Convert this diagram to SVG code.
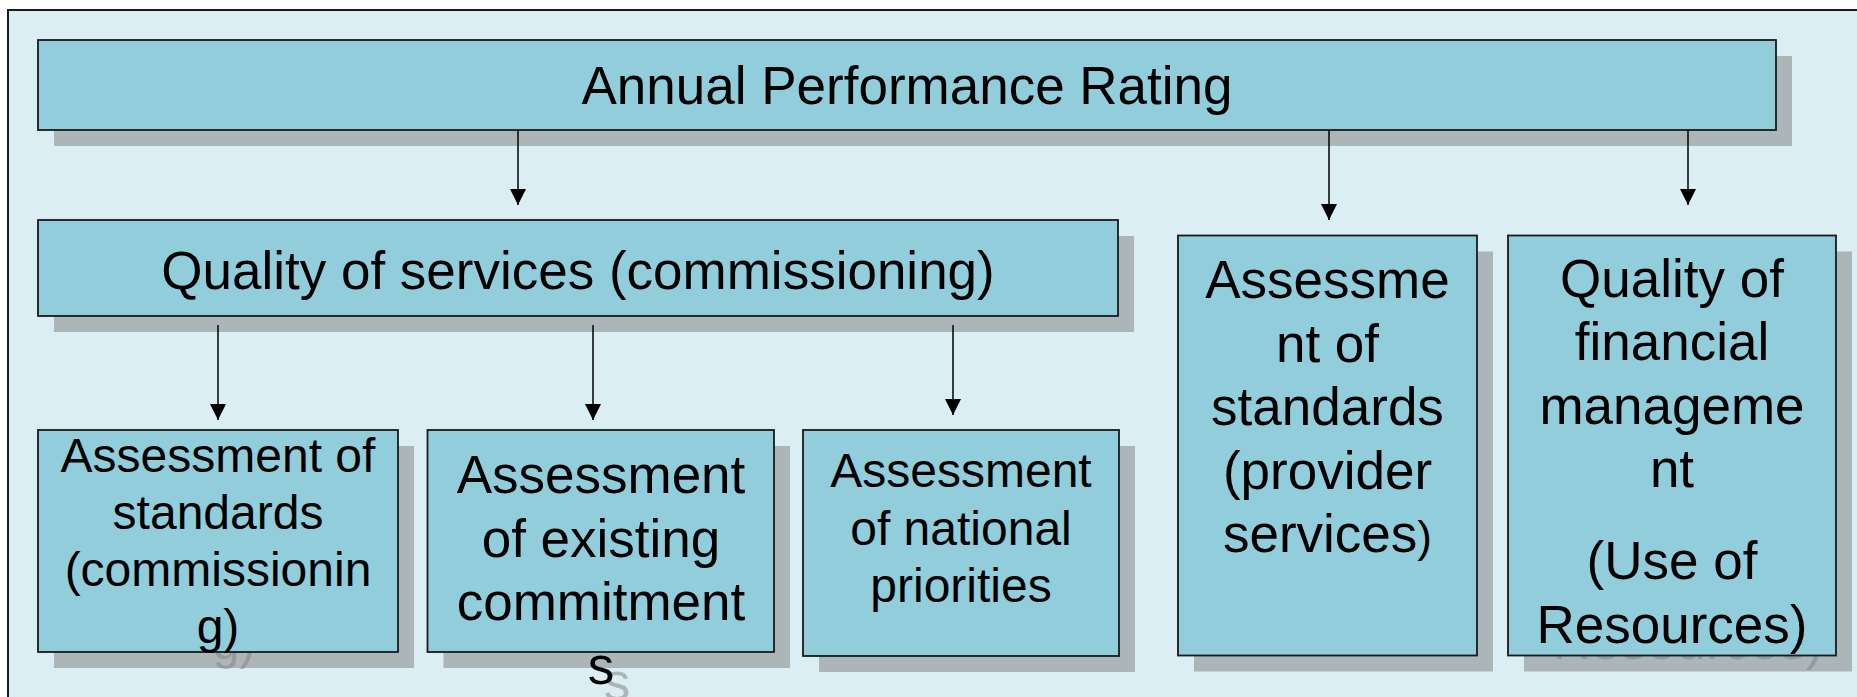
<svg xmlns="http://www.w3.org/2000/svg" width="1857" height="697" viewBox="0 0 1857 697">
<style>
.frame{fill:#DBEEF4;stroke:#1a1a1a;stroke-width:2}
.box{fill:#92CDDC;stroke:#1a1a1a;stroke-width:1.8}
.sh{fill:#808080;fill-opacity:0.51;stroke:none}
.t{font-family:"Liberation Sans",Arial,sans-serif;fill:#000;text-anchor:middle}
.st{font-family:"Liberation Sans",Arial,sans-serif;fill:#808080;fill-opacity:0.51;text-anchor:middle}
.f53{font-size:53px}
.f48{font-size:48px}
.conn line{stroke:#000;stroke-width:1.5;fill:none}
</style>
<defs>
<marker id="arr" markerUnits="userSpaceOnUse" markerWidth="16" markerHeight="16" refX="16" refY="8" orient="auto">
<path d="M0,0 L16,8 L0,16 z" fill="#000"/>
</marker>
</defs>
<rect x="0" y="0" width="1857" height="697" fill="#fff"/>
<rect class="frame" x="8" y="10" width="1880" height="720"/>

<g id="annual">
<rect class="sh" x="54" y="56" width="1738" height="90"/>
<rect class="box" x="38" y="40" width="1738" height="90"/>
<text class="t f53" x="907" y="104">Annual Performance Rating</text>
</g>

<g id="quality-services">
<rect class="sh" x="54" y="236" width="1080" height="96"/>
<rect class="box" x="38" y="220" width="1080" height="96"/>
<text class="t f53" x="578" y="289">Quality of services (commissioning)</text>
</g>

<g id="standards-commissioning">
<rect class="sh" x="54" y="446" width="360" height="222"/>
<text class="st f48" x="234" y="659">g)</text>
<rect class="box" x="38" y="430" width="360" height="222"/>
<text class="t f48"><tspan x="218" y="472">Assessment of</tspan><tspan x="218" y="529">standards</tspan><tspan x="218" y="586">(commissionin</tspan><tspan x="218" y="643">g)</tspan></text>
</g>

<g id="existing-commitments">
<rect class="sh" x="443.5" y="446" width="346.5" height="222"/>
<text class="st f53" x="617" y="699.5">s</text>
<rect class="box" x="427.5" y="430" width="346.5" height="222"/>
<text class="t f53"><tspan x="601" y="493">Assessment</tspan><tspan x="601" y="556.5">of existing</tspan><tspan x="601" y="620">commitment</tspan><tspan x="601" y="683.5">s</tspan></text>
</g>

<g id="national-priorities">
<rect class="sh" x="819" y="446" width="316" height="226"/>
<rect class="box" x="803" y="430" width="316" height="226"/>
<text class="t f48"><tspan x="961" y="487">Assessment</tspan><tspan x="961" y="544.5">of national</tspan><tspan x="961" y="602">priorities</tspan></text>
</g>

<g id="standards-provider">
<rect class="sh" x="1194" y="251.5" width="299" height="420"/>
<rect class="box" x="1178" y="235.5" width="299" height="420"/>
<text class="t f53"><tspan x="1327.5" y="298">Assessme</tspan><tspan x="1327.5" y="361.5">nt of</tspan><tspan x="1327.5" y="425">standards</tspan><tspan x="1327.5" y="488.5">(provider</tspan><tspan x="1327.5" y="552">services<tspan style="font-size:44px">)</tspan></tspan></text>
</g>

<g id="financial-management">
<rect class="sh" x="1524" y="251.5" width="328" height="420"/>
<text class="st f53" x="1688" y="658.5">Resources)</text>
<rect class="box" x="1508" y="235.5" width="328" height="420"/>
<text class="t f53"><tspan x="1672" y="296.5">Quality of</tspan><tspan x="1672" y="360">financial</tspan><tspan x="1672" y="423.5">manageme</tspan><tspan x="1672" y="487">nt</tspan><tspan x="1672" y="579">(Use of</tspan><tspan x="1672" y="642.5">Resources)</tspan></text>
</g>

<g id="connectors" class="conn">
<line x1="518" y1="130" x2="518" y2="205" marker-end="url(#arr)"/>
<line x1="1329" y1="130" x2="1329" y2="220" marker-end="url(#arr)"/>
<line x1="1688" y1="130" x2="1688" y2="205" marker-end="url(#arr)"/>
<line x1="218" y1="325" x2="218" y2="420" marker-end="url(#arr)"/>
<line x1="593" y1="325" x2="593" y2="420" marker-end="url(#arr)"/>
<line x1="953" y1="325" x2="953" y2="415" marker-end="url(#arr)"/>
</g>
</svg>
